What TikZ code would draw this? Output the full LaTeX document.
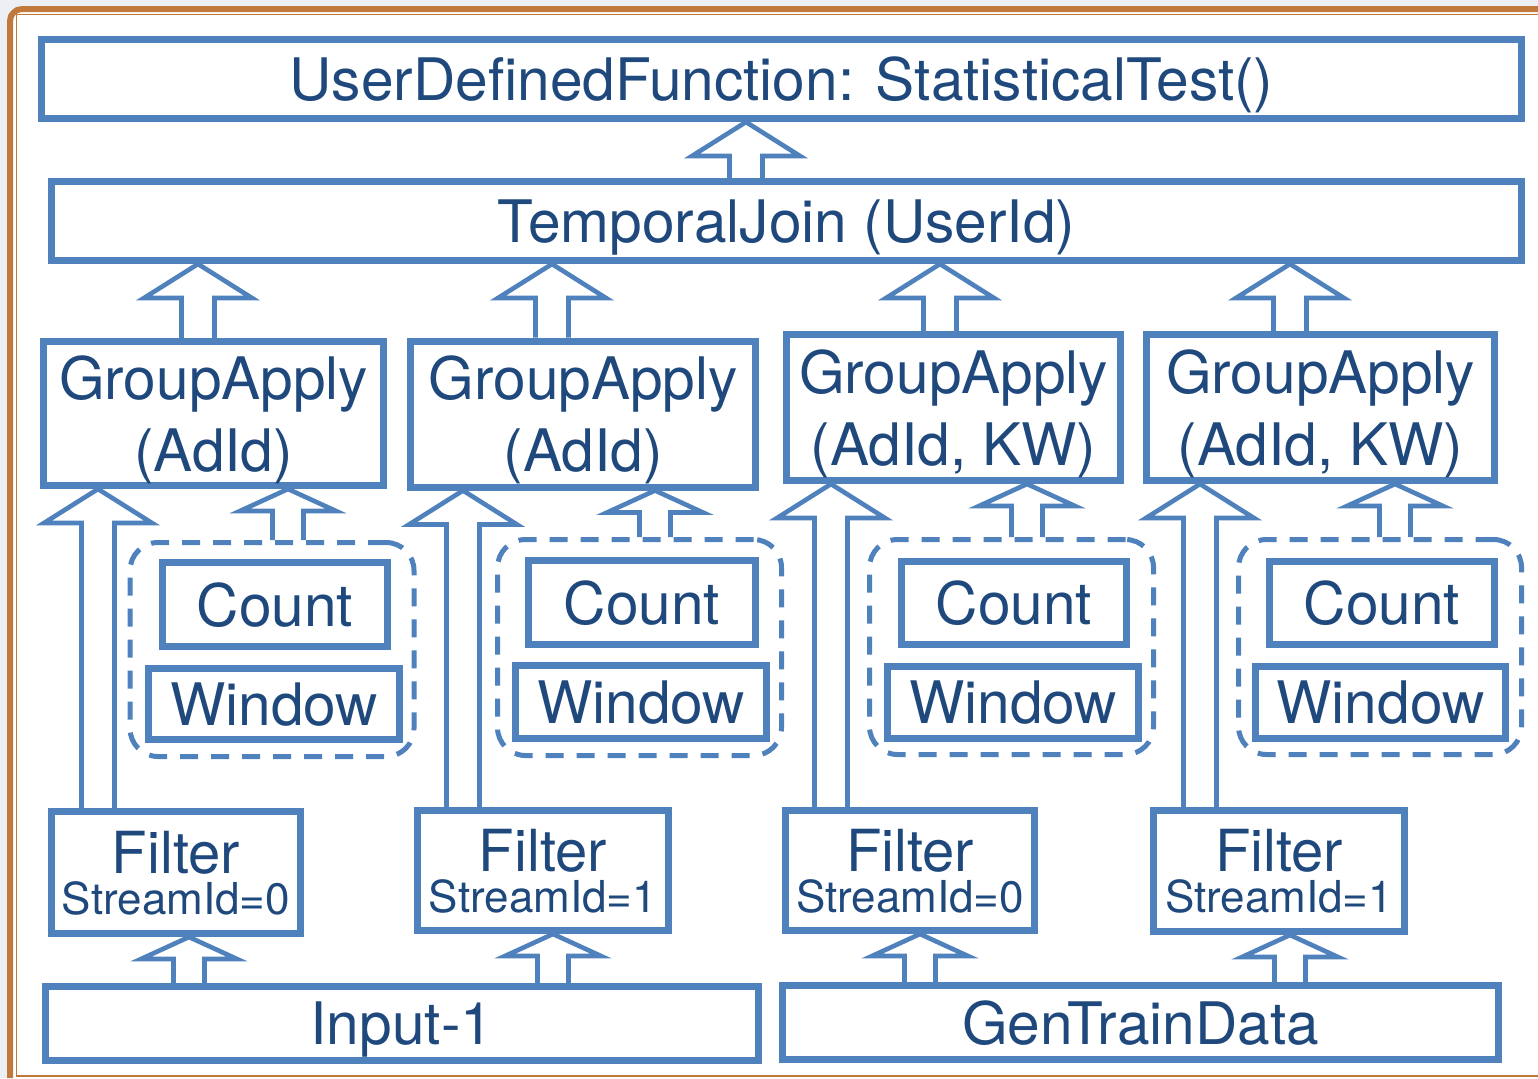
\documentclass[tikz,border=0pt]{standalone}
\usepackage{fontspec}
\setmainfont{TeX Gyre Heros}
\usetikzlibrary{calc}

\definecolor{lineblue}{HTML}{4F81BD}
\definecolor{textblue}{HTML}{1F497D}
\definecolor{frameorange}{HTML}{C0793A}
\definecolor{pagegray}{HTML}{ECEFF3}

\tikzset{
  box/.style={draw=lineblue, line width=3.5pt, text=textblue, inner sep=0pt,
    align=center, text depth=0pt, font=\fontsize{29.3}{36}\selectfont},
  filterbox/.style={box, font=\fontsize{29}{20.5}\selectfont},
  boxsize/.style 2 args={minimum width=#1*0.5pt, minimum height=#2*0.5pt},
  groupbox/.style={draw=lineblue, line width=2.5pt, dash pattern=on 9pt off 6.5pt,
    rounded corners=14pt, inner sep=0pt},
  blockarrow/.style={draw=lineblue, line width=2.3pt, line join=miter},
  bighead/.style={/utils/exec={\def\sw{8.25pt}\def\hw{27pt}\def\hl{17pt}}},
  smallhead/.style={/utils/exec={\def\sw{7.75pt}\def\hw{24pt}\def\hl{11pt}}}
}

% hollow block arrow at x=#2 (pixels) from anchor #3 up to anchor #4
\newcommand{\fatarrow}[4][]{%
  \draw [blockarrow,#1] let \p1=(#2,0 |- #3), \p2=(#2,0 |- #4) in
    (\x1-\sw,\y1) -- (\x1-\sw,\y2-\hl) -- (\x1-\hw,\y2-\hl) -- (\x2,\y2)
    -- (\x1+\hw,\y2-\hl) -- (\x1+\sw,\y2-\hl) -- (\x1+\sw,\y1);}

\newcommand{\sid}[1]{{\fontsize{22}{20.5}\selectfont StreamId=#1}}

\begin{document}
\begin{tikzpicture}[x=0.5pt,y=-0.5pt]
\useasboundingbox (0,0) rectangle (1538,1078);
% page frame
\fill [pagegray] (0,0) rectangle (1538,1078);
\fill [white] (10,9) rectangle (1538,1078);
\draw [frameorange,line width=3pt,rounded corners=6pt] (10,1078) -- (10,9) -- (1538,9);
\draw [frameorange,line width=0.6pt] (1538,14.7) -- (16.2,14.7) -- (16.2,1076) -- (1538,1076);

% operators
\node [box,boxsize={1480}{79}] (udf) at (781.5,79) {UserDefinedFunction: StatisticalTest()};
\node [box,boxsize={1470}{79}] (tj) at (786.5,221) {TemporalJoin (UserId)};
\node [box,boxsize={340}{144}] (ga1) at (213.5,413.5) {GroupApply\\(AdId)};
\node [box,boxsize={345}{146}] (ga2) at (583,414) {GroupApply\\(AdId)};
\node [box,boxsize={334}{146}] (ga3) at (953.5,407.5) {GroupApply\\(AdId, KW)};
\node [box,boxsize={348}{146}] (ga4) at (1320.5,407.5) {GroupApply\\(AdId, KW)};

\node [groupbox,minimum width=142pt,minimum height=107pt] (grp1) at (272,649.5) {};
\node [groupbox,minimum width=142pt,minimum height=108pt] (grp2) at (639.5,647.5) {};
\node [groupbox,minimum width=142pt,minimum height=107.5pt] (grp3) at (1011.5,647) {};
\node [groupbox,minimum width=141.5pt,minimum height=107.5pt] (grp4) at (1380,647) {};

\node [box,boxsize={225}{84}] (count1) at (275,604.5) {Count};
\node [box,boxsize={251}{71}] (window1) at (274,704) {Window};
\node [box,boxsize={227}{84}] (count2) at (642,602.5) {Count};
\node [box,boxsize={251}{73}] (window2) at (641,702) {Window};
\node [box,boxsize={225}{83}] (count3) at (1014,603) {Count};
\node [box,boxsize={251}{72}] (window3) at (1013,702.5) {Window};
\node [box,boxsize={225}{83}] (count4) at (1382,603) {Count};
\node [box,boxsize={250}{72}] (window4) at (1380.5,702.5) {Window};

\node [filterbox,boxsize={249}{122}] (f1) at (176,872.5) {Filter\\\sid{0}};
\node [filterbox,boxsize={251}{120}] (f2) at (543,870.5) {Filter\\\sid{1}};
\node [filterbox,boxsize={249}{120}] (f3) at (910,870.5) {Filter\\\sid{0}};
\node [filterbox,boxsize={251}{121}] (f4) at (1279,871) {Filter\\\sid{1}};

\node [box,boxsize={713}{74}] (in1) at (402,1023.5) {Input-1};
\node [box,boxsize={716}{74}] (gen) at (1140.5,1022.5) {GenTrainData};

% data flow
\fatarrow[bighead]{746}{tj.north}{udf.south}
\fatarrow[bighead]{198}{ga1.north}{tj.south}
\fatarrow[bighead]{552}{ga2.north}{tj.south}
\fatarrow[bighead]{940}{ga3.north}{tj.south}
\fatarrow[bighead]{1290}{ga4.north}{tj.south}
\fatarrow[bighead]{98}{f1.north}{ga1.south}
\fatarrow[bighead]{463}{f2.north}{ga2.south}
\fatarrow[bighead]{831}{f3.north}{ga3.south}
\fatarrow[bighead]{1200}{f4.north}{ga4.south}
\fatarrow[smallhead]{288}{grp1.north}{ga1.south}
\fatarrow[smallhead]{655}{grp2.north}{ga2.south}
\fatarrow[smallhead]{1027}{grp3.north}{ga3.south}
\fatarrow[smallhead]{1395}{grp4.north}{ga4.south}
\fatarrow[smallhead]{189}{in1.north}{f1.south}
\fatarrow[smallhead]{553}{in1.north}{f2.south}
\fatarrow[smallhead]{920}{gen.north}{f3.south}
\fatarrow[smallhead]{1290}{gen.north}{f4.south}
\end{tikzpicture}
\end{document}
